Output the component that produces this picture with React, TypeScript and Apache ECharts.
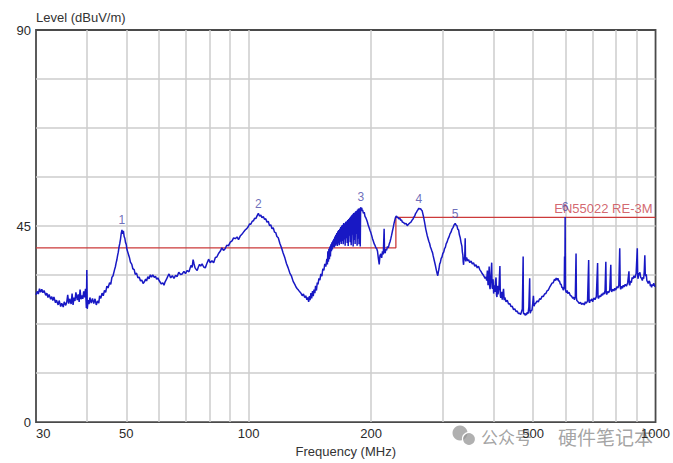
import React, { useEffect, useRef } from "react";
import * as echarts from "echarts";

// Measured trace: [frequency (MHz), level (dBuV/m)]
const tracePoints: [number, number][] = [
  [30.0,29.2],[30.2,30.0],[30.4,29.4],[30.6,30.6],[30.8,29.8],[31.0,30.5],[31.2,29.7],[31.4,30.2],[31.7,29.1],[31.9,29.6],
  [32.1,28.6],[32.3,29.3],[32.6,28.2],[32.8,28.8],[33.0,27.9],[33.2,28.7],[33.5,27.4],[33.7,28.0],[34.0,26.9],[34.2,27.9],
  [34.5,26.5],[34.7,27.3],[35.0,26.4],[35.2,27.6],[35.5,26.8],[35.7,27.5],[35.9,29.2],[36.1,27.2],[36.3,28.3],[36.6,27.1],
  [36.8,29.5],[37.0,26.9],[37.2,28.6],[37.4,27.8],[37.6,29.8],[37.9,28.0],[38.1,29.3],[38.3,27.6],[38.5,30.4],[38.7,28.2],
  [38.9,29.1],[39.1,28.3],[39.3,30.0],[39.5,28.6],[39.7,30.6],[39.9,26.2],[40.0,34.9],[40.1,26.0],[40.3,28.0],[40.5,27.1],
  [40.7,28.6],[41.0,27.3],[41.3,28.4],[41.6,27.2],[41.9,28.3],[42.2,26.9],[42.5,27.8],[42.8,27.3],[43.0,29.0],[43.3,28.4],
  [43.6,29.6],[43.9,29.0],[44.2,30.2],[44.5,29.8],[44.8,31.2],[45.1,30.8],[45.5,32.0],[45.8,31.6],[46.1,33.2],[46.4,33.6],
  [46.8,35.0],[47.0,35.6],[47.2,36.5],[47.4,37.2],[47.6,38.2],[47.8,39.0],[48.0,40.2],[48.2,41.0],[48.4,42.0],[48.6,43.3],
  [48.8,44.1],[49.0,43.2],[49.2,43.9],[49.4,42.6],[49.6,42.2],[49.8,41.2],[50.0,40.8],[50.2,39.6],[50.4,39.6],[50.7,38.3],
  [50.9,37.8],[51.2,36.7],[51.6,36.2],[51.9,35.2],[52.3,35.0],[52.6,33.9],[53.0,34.2],[53.4,33.1],[53.8,33.3],[54.2,32.4],
  [54.6,32.6],[55.0,31.8],[55.4,32.2],[55.8,32.8],[56.1,32.4],[56.5,33.4],[56.9,32.9],[57.3,33.8],[57.7,33.3],[58.1,33.8],
  [58.6,33.2],[59.0,33.5],[59.4,32.8],[59.8,33.1],[60.2,32.5],[60.6,32.1],[61.0,31.7],[61.5,32.0],[61.9,31.4],[62.3,32.2],
  [62.8,32.8],[63.2,33.4],[63.7,34.0],[64.3,33.1],[64.9,33.6],[65.5,33.0],[66.1,33.7],[66.7,33.4],[67.3,34.4],[68.0,33.9],
  [68.6,34.0],[69.3,34.6],[69.9,34.1],[70.6,34.8],[71.3,34.5],[71.8,35.4],[72.2,36.0],[72.6,35.5],[73.0,37.3],[73.4,36.3],
  [73.8,35.4],[74.2,35.1],[74.7,34.8],[75.2,35.6],[75.7,36.2],[76.2,35.8],[76.8,36.3],[77.5,35.6],[78.2,35.4],[78.9,36.4],
  [79.7,37.4],[80.4,36.6],[81.2,37.0],[82.0,36.6],[82.8,37.8],[83.5,37.9],[84.3,38.7],[85.1,39.2],[85.9,40.0],[86.7,39.4],
  [87.5,39.8],[88.3,40.6],[89.2,40.5],[90.1,41.3],[91.0,41.6],[91.8,42.3],[92.7,42.1],[93.6,42.5],[94.4,41.9],[95.3,42.7],
  [96.2,43.1],[97.1,43.6],[98.0,44.1],[98.9,44.4],[99.8,44.9],[100.5,45.5],[101.2,45.4],[102.0,46.1],[102.7,46.2],[103.4,46.8],
  [104.1,46.7],[104.9,47.4],[105.6,47.9],[106.3,47.3],[107.1,47.5],[107.8,46.9],[108.6,47.2],[109.4,46.5],[110.1,46.7],[110.9,45.9],
  [111.7,46.1],[112.5,45.1],[113.3,45.3],[114.1,44.4],[114.9,44.6],[115.7,43.6],[116.5,43.5],[117.3,42.6],[118.2,42.3],[119.3,41.0],
  [120.4,40.0],[121.5,38.8],[122.7,37.7],[123.8,36.4],[125.0,35.4],[126.2,34.2],[127.4,33.5],[128.6,32.3],[129.8,31.6],[130.7,31.0],
  [131.6,30.6],[132.5,30.3],[133.5,29.9],[134.4,29.6],[135.4,29.0],[136.3,29.4],[137.3,28.6],[138.1,29.0],[139.0,28.1],[139.7,28.6],
  [140.4,27.6],[141.0,28.9],[141.5,28.0],[142.2,29.6],[142.8,28.4],[143.5,30.1],[144.1,28.9],[144.7,30.4],[145.4,29.6],[146.0,31.3],
  [146.7,30.2],[147.4,32.0],[148.0,31.6],[148.8,33.0],[149.6,32.6],[150.4,34.0],[151.3,33.5],[152.1,35.2],[153.0,34.8],[153.8,36.3],
  [154.7,35.7],[155.6,37.5],[156.1,36.2],[156.5,39.2],[157.0,36.8],[157.4,39.8],[157.9,37.4],[158.3,40.3],[158.8,38.0],[159.2,40.8],
  [159.7,39.2],[160.1,41.3],[160.6,39.6],[161.0,41.7],[161.5,40.2],[161.9,42.1],[162.4,40.1],[162.8,42.6],[163.3,40.5],[163.7,43.0],
  [164.2,40.8],[164.6,43.4],[165.1,40.4],[165.5,43.8],[166.0,41.0],[166.4,44.1],[166.9,40.6],[167.4,44.4],[167.8,41.4],[168.3,44.8],
  [168.8,40.9],[169.3,45.1],[169.7,41.6],[170.2,45.3],[170.7,40.8],[171.2,45.7],[171.6,41.9],[172.1,45.6],[172.6,40.5],[173.1,46.0],
  [173.6,42.2],[174.1,46.1],[174.6,41.1],[175.1,46.4],[175.6,40.4],[176.1,46.6],[176.6,42.8],[177.1,46.9],[177.6,41.3],[178.1,47.2],
  [178.6,40.6],[179.1,47.5],[179.6,43.0],[180.1,47.7],[180.6,40.3],[181.1,48.0],[181.6,41.8],[182.1,48.1],[182.6,40.9],[183.2,48.4],
  [183.7,43.2],[184.2,48.5],[184.7,40.5],[185.2,48.8],[185.7,42.1],[186.2,49.0],[186.7,40.8],[187.3,49.1],[187.7,44.0],[188.0,40.3],
  [188.4,49.3],[188.7,49.4],[189.2,48.7],[189.6,49.2],[190.1,48.4],[190.5,48.7],[191.4,47.9],[192.3,48.2],[193.1,47.2],[194.0,46.9],
  [195.0,46.4],[195.9,45.8],[196.8,45.1],[197.7,44.6],[198.7,44.0],[199.6,43.5],[200.6,42.8],[201.5,42.1],[202.5,41.5],[203.5,40.9],
  [204.5,40.5],[205.4,40.0],[206.4,39.8],[207.3,39.2],[208.3,37.6],[209.3,36.2],[210.2,38.2],[211.2,38.6],[212.2,37.7],[213.2,39.2],
  [214.2,38.5],[215.2,44.4],[215.7,39.1],[216.5,38.8],[217.2,39.7],[218.2,39.4],[219.3,40.3],[220.3,40.0],[221.4,40.8],[222.5,41.4],
  [223.5,42.1],[224.5,42.9],[225.5,43.8],[226.5,44.6],[227.6,45.6],[228.7,46.4],[229.7,47.1],[230.8,47.3],[231.9,46.9],[233.0,47.0],
  [234.2,46.6],[235.3,46.8],[236.4,46.3],[237.5,46.4],[238.6,45.9],[240.2,45.8],[241.9,45.5],[243.6,45.6],[245.3,45.1],[247.0,45.4],
  [248.8,45.7],[250.5,45.9],[252.3,46.4],[253.5,46.6],[254.7,47.1],[255.9,47.3],[257.1,47.9],[258.3,48.1],[259.5,48.5],[260.8,48.8],
  [262.0,49.1],[263.2,48.9],[264.5,49.0],[265.7,48.7],[266.9,48.5],[268.6,47.4],[270.4,46.0],[272.4,44.3],[274.5,42.9],[275.8,42.2],
  [277.1,41.5],[278.4,41.0],[279.7,40.2],[280.8,39.8],[282.0,39.3],[283.0,38.9],[284.0,38.2],[285.8,37.1],[287.6,36.0],[288.6,35.3],
  [289.5,34.7],[290.5,34.1],[291.5,33.6],[292.5,34.5],[293.6,35.2],[294.7,36.3],[295.8,36.6],[297.2,37.6],[298.6,37.9],[300.0,38.7],
  [301.5,39.0],[302.9,39.8],[304.3,40.1],[305.7,40.9],[307.2,41.3],[308.9,42.0],[310.7,42.5],[312.4,43.2],[314.2,43.6],[316.1,44.3],
  [318.0,44.7],[319.9,45.3],[321.8,45.6],[323.3,45.2],[324.9,45.1],[326.4,44.3],[328.0,44.1],[329.5,43.0],[331.1,42.3],[332.6,41.2],
  [334.2,40.4],[335.1,39.0],[336.0,38.4],[336.7,36.8],[337.4,36.1],[338.2,37.8],[339.0,37.3],[339.7,38.2],[340.5,42.2],[341.1,37.2],
  [341.8,36.9],[343.1,37.8],[344.4,37.4],[345.7,37.0],[347.0,37.3],[349.5,36.6],[352.0,37.0],[354.4,36.3],[356.9,36.6],[359.5,35.8],
  [362.0,36.1],[364.5,35.4],[367.1,35.8],[369.7,35.0],[372.3,34.6],[374.9,34.1],[377.5,33.7],[379.2,33.4],[381.0,33.0],[382.8,33.3],
  [384.6,32.5],[386.0,34.8],[387.5,31.4],[388.8,33.2],[390.0,35.7],[391.0,31.2],[392.0,30.5],[393.8,33.6],[395.6,36.6],[396.5,31.0],
  [397.5,30.6],[398.7,32.8],[400.0,29.5],[401.5,31.4],[403.0,29.9],[404.2,32.2],[405.5,33.2],[406.5,29.2],[407.5,28.7],[408.8,31.3],
  [410.0,29.3],[412.2,30.8],[414.4,35.8],[415.4,29.0],[416.5,28.5],[418.2,29.9],[420.0,28.1],[421.5,29.4],[423.0,30.6],[424.6,28.0],
  [426.2,28.6],[429.0,27.6],[432.0,28.0],[435.2,27.1],[438.4,27.2],[441.4,26.5],[444.5,26.6],[447.7,25.8],[450.9,26.0],[454.0,25.4],
  [457.0,25.5],[460.3,24.9],[463.7,25.0],[466.0,24.7],[468.0,25.2],[470.5,26.0],[472.7,38.0],[473.4,25.3],[474.0,24.8],[476.0,25.0],
  [478.0,24.5],[479.8,24.9],[481.5,24.6],[483.8,25.2],[486.0,24.9],[488.2,26.4],[490.5,33.0],[491.2,25.6],[492.0,25.0],[494.5,25.6],
  [497.0,25.7],[499.0,27.2],[501.0,29.0],[502.8,26.6],[504.5,27.1],[507.8,27.3],[511.0,27.8],[515.0,27.6],[518.9,28.3],[522.5,28.2],
  [526.0,28.9],[529.8,28.8],[533.6,29.4],[537.3,29.5],[541.0,30.1],[544.9,30.3],[548.8,30.9],[552.6,31.4],[556.5,31.9],[560.5,32.0],
  [564.5,32.8],[567.3,32.5],[570.0,33.1],[572.7,32.6],[575.4,33.0],[578.0,32.4],[580.5,32.4],[583.3,31.7],[586.1,31.6],[588.5,30.9],
  [591.0,30.9],[593.0,30.3],[595.0,30.6],[596.5,31.2],[597.5,38.0],[598.5,31.0],[599.5,47.1],[600.5,30.4],[601.5,30.1],[604.0,29.7],
  [606.3,30.2],[608.6,29.5],[612.8,29.8],[617.0,29.1],[621.5,28.9],[626.0,28.4],[629.0,28.7],[632.0,28.1],[635.0,28.8],[637.7,38.7],
  [639.0,28.6],[640.5,27.9],[645.0,27.6],[649.6,27.2],[653.8,27.5],[658.0,27.0],[663.0,27.3],[668.1,26.9],[672.0,27.6],[676.0,27.3],
  [680.5,27.8],[684.9,37.2],[686.5,27.6],[688.5,27.4],[691.5,28.1],[694.5,27.9],[697.5,28.3],[700.4,27.6],[705.2,28.5],[710.0,28.1],
  [715.2,28.8],[720.4,36.5],[722.0,28.6],[724.0,28.4],[728.5,29.0],[733.0,28.8],[737.0,29.4],[740.9,29.1],[744.5,29.7],[748.0,29.4],
  [751.5,30.2],[754.8,36.8],[756.5,29.6],[758.5,29.3],[762.7,30.0],[767.0,29.7],[771.7,30.3],[776.3,36.1],[778.0,30.4],[780.0,29.9],
  [785.0,30.5],[790.0,30.1],[794.2,30.7],[798.4,30.3],[803.2,31.1],[808.0,30.8],[812.3,31.4],[816.6,39.9],[818.8,31.0],[821.0,30.5],
  [825.0,31.2],[829.0,30.7],[832.8,31.4],[836.5,31.0],[842.3,31.6],[848.0,31.2],[854.2,32.0],[860.3,34.6],[862.2,31.6],[864.0,31.4],
  [868.0,32.4],[872.0,32.0],[876.0,33.2],[879.9,32.9],[885.0,33.6],[890.0,33.1],[896.0,34.1],[901.9,39.9],[904.0,33.5],[906.0,32.9],
  [909.0,34.2],[912.0,33.7],[915.4,34.4],[918.8,33.3],[923.4,33.0],[928.0,32.5],[931.5,33.3],[935.0,32.9],[938.1,34.6],[941.2,38.3],
  [943.6,34.0],[946.0,33.5],[949.0,33.9],[952.0,32.5],[955.7,32.2],[959.4,31.8],[963.7,32.4],[968.0,32.1],[971.5,31.2],[975.0,31.6],
  [978.1,30.9],[981.2,31.6],[985.6,31.3],[990.0,31.9],[995.0,31.2],[1000.0,31.1],
];

// Limit line EN55022 RE-3M
const limitName = "EN55022 RE-3M";
const limitFreqMHz = [30, 230, 230, 1000];
const limitLevelDb = [40, 40, 47, 47];

// Peak markers
const markerLabels = ["1", "2", "3", "4", "5", "6"];
const markerFreqMHz = [48.8, 105.6, 188.7, 262.0, 321.8, 599.5];
const markerLevelDb = [44.1, 47.9, 49.4, 49.1, 45.6, 47.1];

// Axes
const xMinMHz = 30;
const xMaxMHz = 1000;
const xGridMHz = [40, 50, 60, 70, 80, 90, 100, 200, 300, 400, 500, 600, 700, 800, 900];
const xTickLabelsMHz = [30, 50, 100, 200, 500, 1000];
const yMin = 0;
const yMax = 90;
const yStep = 11.25;
const yTickLabels = [0, 45, 90];

const FONT = "'Liberation Sans', Arial, sans-serif";
const CJK = "'Noto Sans CJK SC', sans-serif";

export default function App() {
  const ref = useRef<HTMLDivElement>(null);

  useEffect(() => {
    if (!ref.current) return;
    const chart = echarts.init(ref.current, undefined, { renderer: "svg" });

    const lg = (f: number) => Math.log10(f);
    const traceData = tracePoints.map(([f, v]) => [lg(f), v]);
    const limitData = limitFreqMHz.map((f, i) => [lg(f), limitLevelDb[i]]);
    const limitEnd = limitData[limitData.length - 1];
    const markerData = markerFreqMHz.map((f, i) => ({
      value: [lg(f), markerLevelDb[i]],
      name: markerLabels[i],
    }));

    const yInner: number[] = [];
    for (let v = yMin + yStep; v < yMax - 1e-9; v += yStep) yInner.push(v);

    chart.setOption({
      animation: false,
      backgroundColor: "#ffffff",
      grid: {
        left: 36,
        top: 30,
        right: 13,
        bottom: 38,
        show: true,
        borderColor: "#4a4a4a",
        borderWidth: 1.8,
        backgroundColor: "#ffffff",
      },
      xAxis: {
        type: "value",
        min: lg(xMinMHz),
        max: lg(xMaxMHz),
        name: "Frequency (MHz)",
        nameLocation: "middle",
        nameGap: 22,
        nameTextStyle: { fontSize: 13, color: "#333", fontFamily: FONT },
        axisLine: { show: false },
        axisTick: { show: false, customValues: xGridMHz.map(lg) },
        splitLine: { show: true, lineStyle: { color: "#cdcdcd", width: 1.5 } },
        axisLabel: {
          customValues: xTickLabelsMHz.map(lg),
          formatter: (v: number) => String(Math.round(Math.pow(10, v))),
          fontSize: 13,
          color: "#2a2a2a",
          fontFamily: FONT,
          margin: 5,
          alignMinLabel: "left",
        },
      },
      yAxis: {
        type: "value",
        min: yMin,
        max: yMax,
        interval: yStep,
        name: "Level (dBuV/m)",
        nameLocation: "end",
        nameGap: 5,
        nameTextStyle: { fontSize: 13, color: "#333", fontFamily: FONT, align: "left", verticalAlign: "bottom" },
        axisLine: { show: false },
        axisTick: { show: false, customValues: yInner },
        splitLine: { show: true, lineStyle: { color: "#cdcdcd", width: 1.5 } },
        axisLabel: {
          customValues: yTickLabels,
          formatter: (v: number) => String(v),
          fontSize: 13,
          color: "#2a2a2a",
          fontFamily: FONT,
          margin: 5,
        },
      },
      series: [
        {
          name: limitName,
          type: "line",
          data: limitData,
          symbol: "none",
          lineStyle: { color: "#cc3a3a", width: 1.3 },
          z: 2,
        },
        {
          name: "Trace",
          type: "line",
          data: traceData,
          symbol: "none",
          showSymbol: false,
          lineStyle: { color: "#1818c4", width: 1.5 },
          z: 3,
        },
        {
          name: "Markers",
          type: "scatter",
          data: markerData,
          symbolSize: 1,
          itemStyle: { color: "rgba(0,0,0,0)" },
          label: {
            show: true,
            position: "top",
            distance: 3,
            formatter: (p: any) => p.name,
            color: "#4848a8",
            fontSize: 12,
            fontFamily: FONT,
          },
          z: 5,
        },
        {
          name: "Limit label",
          type: "scatter",
          data: [{ value: limitEnd, name: limitName }],
          symbolSize: 1,
          itemStyle: { color: "rgba(0,0,0,0)" },
          label: {
            show: true,
            position: "top",
            align: "right",
            distance: 2,
            offset: [-3, 0],
            formatter: (p: any) => p.name,
            color: "#c8404a",
            fontSize: 13,
            fontFamily: FONT,
          },
          z: 4,
        },
      ],
      graphic: [
        {
          type: "group",
          z: 1,
          children: [
            { type: "circle", shape: { cx: 460, cy: 433, r: 7.5 }, style: { fill: "rgba(150,150,150,0.75)" } },
            { type: "circle", shape: { cx: 469, cy: 439, r: 6.5 }, style: { fill: "rgba(150,150,150,0.75)", stroke: "#fff", lineWidth: 1.2 } },
            { type: "text", x: 481, y: 436, style: { text: "公众号", fontSize: 17, fontFamily: CJK, fill: "rgba(140,140,140,0.8)", verticalAlign: "middle" } },
            { type: "text", x: 558, y: 436, style: { text: "硬件笔记本", fontSize: 19, fontFamily: CJK, fill: "rgba(140,140,140,0.8)", verticalAlign: "middle" } },
          ],
        },
      ],
    });

    return () => chart.dispose();
  }, []);

  return <div ref={ref} style={{ position: "absolute", left: 0, top: 0, width: 673, height: 463 }} />;
}
